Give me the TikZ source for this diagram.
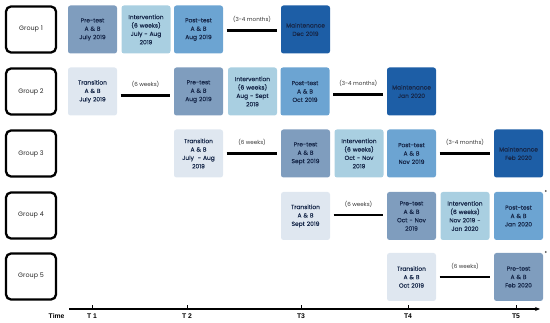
\documentclass[tikz,border=0pt]{standalone}
\usepackage{fontspec}
\setmainfont{Poppins}
\newfontfamily\boxfont{Poppins}[FakeBold=0.3]
\newfontfamily\axisfont{Liberation Sans}
\usetikzlibrary{arrows.meta}
\definecolor{cpre}{HTML}{7F9DBE}
\definecolor{cint}{HTML}{A9CFE1}
\definecolor{cpost}{HTML}{6CA4D2}
\definecolor{cmain}{HTML}{1D5EA6}
\definecolor{ctrans}{HTML}{DFE7F0}
\definecolor{ctxt}{HTML}{17284A}
\tikzset{
  stagebox/.style={rounded corners=2.5pt, minimum width=49pt, minimum height=48pt, inner sep=0pt,
    text width=47pt, align=center, text=ctxt, font=\boxfont\fontsize{5.9}{8.4}\selectfont},
  grpbox/.style={draw=black, line width=2.3pt, rounded corners=5pt, fill=white, minimum width=50pt,
    minimum height=46pt, font=\fontsize{6.4}{7}\selectfont, text=black!85},
  gapline/.style={line width=2.6pt, shorten <=3.5pt, shorten >=3.5pt},
  gaplbl/.style={font=\fontsize{5.6}{6}\selectfont, text=black!80, above=3pt},
  axlbl/.style={font=\axisfont\bfseries\fontsize{6.8}{7}\selectfont},
  astk/.style={font=\fontsize{5.5}{6}\selectfont}
}
\begin{document}
\begin{tikzpicture}[x=1pt,y=-1pt]
\useasboundingbox (0,0) rectangle (550,323);
% group boxes
\node[grpbox] (G1) at (31,29.5) {Group 1};
\node[grpbox] (G2) at (31,91.5) {Group 2};
\node[grpbox] (G3) at (31,153.5) {Group 3};
\node[grpbox] (G4) at (31,215.5) {Group 4};
\node[grpbox] (G5) at (31,276.5) {Group 5};
% row 1
\node[stagebox, fill=cpre] (a1) at (92.5,29.5) {Pre-test\\A \& B\\July 2019};
\node[stagebox, fill=cint] (a2) at (146,29.5) {Intervention\\(6 weeks)\\July - Aug\\2019};
\node[stagebox, fill=cpost] (a3) at (198.5,29.5) {Post-test\\A \& B\\Aug 2019};
\node[stagebox, fill=cmain] (a4) at (305.5,29.5) {Maintenance\\Dec 2019};
\draw[gapline] ([yshift=-1pt]a3.east) -- ([yshift=-1pt]a4.west) node[midway, gaplbl] {(3-4 months)};
% row 2
\node[stagebox, fill=ctrans] (b1) at (92.5,91.5) {Transition\\A \& B\\July 2019};
\node[stagebox, fill=cpre] (b2) at (198.5,91.5) {Pre-test\\A \& B\\Aug 2019};
\node[stagebox, fill=cint] (b3) at (252.5,91.5) {Intervention\\(6 weeks)\\Aug - Sept\\2019};
\node[stagebox, fill=cpost] (b4) at (305,91.5) {Post-test\\A \& B\\Oct 2019};
\node[stagebox, fill=cmain] (b5) at (411.5,91.5) {Maintenance\\Jan 2020};
\draw[gapline] ([yshift=-4pt]b1.east) -- ([yshift=-4pt]b2.west) node[midway, gaplbl] {(6 weeks)};
\draw[gapline] ([yshift=-3pt]b4.east) -- ([yshift=-3pt]b5.west) node[midway, gaplbl] {(3-4 months)};
% row 3
\node[stagebox, fill=ctrans] (c1) at (198.5,153.5) {Transition\\A \& B\\July\ \ - Aug\\2019};
\node[stagebox, fill=cpre] (c2) at (305.5,153.5) {Pre-test\\A \& B\\Sept 2019};
\node[stagebox, fill=cint] (c3) at (359,153.5) {Intervention\\(6 weeks)\\Oct - Nov\\2019};
\node[stagebox, fill=cpost] (c4) at (411.5,153.5) {Post-test\\A \& B\\Nov 2019};
\node[stagebox, fill=cmain] (c5) at (518.5,153.5) {Maintenance\\Feb 2020};
\draw[gapline] (c1.east) -- (c2.west) node[midway, gaplbl] {(6 weeks)};
\draw[gapline] (c4.east) -- (c5.west) node[midway, gaplbl] {(3-4 months)};
% row 4
\node[stagebox, fill=ctrans] (d1) at (305.5,216) {Transition\\A \& B\\Sept 2019};
\node[stagebox, fill=cpre] (d2) at (411.5,216) {Pre-test\\A \& B\\Oct - Nov\\2019};
\node[stagebox, fill=cint] (d3) at (465,216) {Intervention\\(6 weeks)\\Nov 2019 -\\Jan 2020};
\node[stagebox, fill=cpost] (d4) at (518.5,216) {Post-test\\A \& B\\Jan 2020};
\draw[gapline] ([yshift=1pt]d1.east) -- ([yshift=1pt]d2.west) node[midway, gaplbl] {(6 weeks)};
\node[astk] (s1) at (546,192) {*};
% row 5
\node[stagebox, fill=ctrans] (e1) at (411.5,277) {Transition\\A \& B\\Oct 2019};
\node[stagebox, fill=cpre] (e2) at (518.5,277) {Pre-test\\A \& B\\Feb 2020};
\draw[gapline] (e1.east) -- (e2.west) node[midway, gaplbl] {(6 weeks)};
\node[astk] (s2) at (546,253) {*};
% time axis
\coordinate (ax0) at (69,309);
\coordinate (ax1) at (540,309);
\draw[line width=1.1pt, -{Stealth[length=5pt,width=4pt]}] (ax0) -- (ax1);
\node[axlbl, anchor=east] (tm) at (68,316) {Time};
\foreach \xx/\lab/\nm in {92/T 1/t1, 187/T 2/t2, 301/T3/t3, 408/T4/t4, 516/T5/t5}{
  \coordinate (\nm) at (\xx,309);
  \draw[line width=0.9pt] (\nm) -- ++(0,-4);
  \node[axlbl] (\nm l) at (\xx,316) {\lab};
}
\end{tikzpicture}
\end{document}
